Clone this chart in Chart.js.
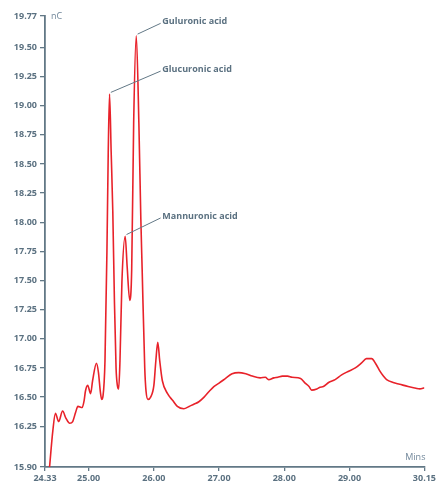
<!DOCTYPE html>
<html>
<head>
<meta charset="utf-8">
<script src="https://cdn.jsdelivr.net/npm/chart.js@4.4.1/dist/chart.umd.min.js"></script>
<style>
  html, body { margin: 0; padding: 0; background: #ffffff; }
  #wrap { width: 438px; height: 484px; position: relative; }
</style>
</head>
<body>
<div id="wrap"><canvas id="chrom"></canvas></div>
<script>
// Retention time (min) and detector response (nC)
const retentionTimes = [
  24.40, 24.45, 24.49, 24.54, 24.60, 24.65, 24.71, 24.755, 24.80, 24.835,
  24.90, 24.93, 24.95, 24.985, 25.03, 25.06, 25.12, 25.15, 25.18, 25.20,
  25.22, 25.25, 25.28, 25.30, 25.32, 25.345, 25.37, 25.395, 25.42, 25.44,
  25.46, 25.48, 25.51, 25.56, 25.59, 25.63, 25.66, 25.69, 25.73, 25.77,
  25.80, 25.82, 25.86, 25.88, 25.91, 25.95, 26.00, 26.03, 26.06, 26.09,
  26.13, 26.21, 26.29, 26.36, 26.46, 26.54, 26.62, 26.69, 26.77, 26.85,
  26.92, 27.00, 27.10, 27.20, 27.30, 27.41, 27.51, 27.63, 27.71, 27.76,
  27.84, 27.90, 27.97, 28.05, 28.12, 28.25, 28.32, 28.38, 28.42, 28.50,
  28.55, 28.60, 28.68, 28.78, 28.88, 28.98, 29.09, 29.19, 29.26, 29.34,
  29.41, 29.47, 29.52, 29.57, 29.67, 29.77, 29.90, 30.02, 30.08, 30.15
];
const responseNC = [
  15.90, 16.21, 16.36, 16.29, 16.38, 16.32, 16.275, 16.29, 16.37, 16.42,
  16.41, 16.47, 16.55, 16.60, 16.53, 16.64, 16.79, 16.71, 16.54, 16.48,
  16.51, 16.81, 17.75, 18.60, 19.10, 18.60, 18.09, 17.32, 16.75, 16.60,
  16.57, 16.81, 17.49, 17.88, 17.62, 17.33, 17.60, 18.85, 19.60, 18.85,
  18.03, 17.60, 16.75, 16.55, 16.48, 16.50, 16.60, 16.81, 16.97, 16.81,
  16.64, 16.53, 16.47, 16.42, 16.40, 16.42, 16.44, 16.46, 16.50, 16.55,
  16.59, 16.62, 16.66, 16.70, 16.71, 16.70, 16.68, 16.665, 16.67, 16.65,
  16.665, 16.67, 16.68, 16.68, 16.67, 16.66, 16.62, 16.59, 16.56, 16.57,
  16.585, 16.59, 16.625, 16.65, 16.69, 16.72, 16.75, 16.795, 16.83, 16.83,
  16.78, 16.72, 16.68, 16.65, 16.625, 16.61, 16.59, 16.575, 16.57, 16.58
];

// Axis ticks
const xTicks = [24.33, 25.00, 26.00, 27.00, 28.00, 29.00, 30.15];
const yTicks = [15.90, 16.25, 16.50, 16.75, 17.00, 17.25, 17.50, 17.75, 18.00,
                18.25, 18.50, 18.75, 19.00, 19.25, 19.50, 19.77];

// Named peaks
const peakNames = ['Guluronic acid', 'Glucuronic acid', 'Mannuronic acid'];
const peakTimes = [25.73, 25.32, 25.56];

const AXIS = '#627886';
const TEXT = '#5b7181';
const LINE = '#e8222a';

// Where each peak name is written (data units)
const labelSpots = [
  { x: 26.13, y: 19.72 },
  { x: 26.13, y: 19.31 },
  { x: 26.13, y: 18.05 }
];

const peakAnnotations = {
  id: 'peakAnnotations',
  afterDatasetsDraw(chart) {
    const { ctx, scales: { x, y }, chartArea } = chart;
    ctx.save();
    ctx.font = 'bold 9px "Open Sans"';
    ctx.textBaseline = 'middle';
    ctx.textAlign = 'left';
    peakNames.forEach((name, i) => {
      const idx = retentionTimes.indexOf(peakTimes[i]);
      const px = x.getPixelForValue(peakTimes[i]);
      const py = y.getPixelForValue(responseNC[idx]);
      const tx = x.getPixelForValue(labelSpots[i].x);
      const ty = y.getPixelForValue(labelSpots[i].y);
      ctx.strokeStyle = AXIS;
      ctx.lineWidth = 1;
      ctx.beginPath();
      ctx.moveTo(px + 1.3, py - 1.7);
      ctx.lineTo(tx - 1.7, ty + 1.5);
      ctx.stroke();
      ctx.fillStyle = TEXT;
      ctx.fillText(name, tx, ty);
    });
    // unit captions
    ctx.font = '9px "Open Sans"';
    ctx.fillStyle = '#71879a';
    ctx.textAlign = 'left';
    ctx.fillText('nC', chartArea.left + 6, chartArea.top);
    ctx.textAlign = 'right';
    ctx.fillText('Mins', chartArea.right + 1, chartArea.bottom - 10);
    ctx.restore();
  }
};

const points = retentionTimes.map((t, i) => ({ x: t, y: responseNC[i] }));

new Chart(document.getElementById('chrom'), {
  type: 'line',
  data: {
    datasets: [{
      data: points,
      borderColor: LINE,
      borderWidth: 1.6,
      pointRadius: 0,
      fill: false,
      cubicInterpolationMode: 'monotone'
    }]
  },
  options: {
    responsive: true,
    maintainAspectRatio: false,
    animation: false,
    layout: { padding: { top: 16, right: 12, left: 0, bottom: 0 } },
    plugins: { legend: { display: false }, tooltip: { enabled: false } },
    scales: {
      x: {
        type: 'linear',
        min: 24.33,
        max: 30.15,
        afterBuildTicks(axis) { axis.ticks = xTicks.map(v => ({ value: v })); },
        afterFit(axis) { axis.height = 17; },
        ticks: {
          autoSkip: false,
          maxRotation: 0,
          padding: 2,
          color: TEXT,
          font: { family: 'Open Sans', size: 9, weight: 'bold' },
          callback: v => Number(v).toFixed(2)
        },
        grid: { drawOnChartArea: false, drawTicks: true, tickLength: 4, color: AXIS, lineWidth: 1.3 },
        border: { display: true, color: AXIS, width: 1.8 }
      },
      y: {
        type: 'linear',
        min: 15.90,
        max: 19.77,
        afterBuildTicks(axis) { axis.ticks = yTicks.map(v => ({ value: v })); },
        afterFit(axis) { axis.width = 45; },
        ticks: {
          autoSkip: false,
          padding: 3,
          color: TEXT,
          font: { family: 'Open Sans', size: 9, weight: 'bold' },
          callback: v => Number(v).toFixed(2)
        },
        grid: { drawOnChartArea: false, drawTicks: true, tickLength: 5, color: AXIS, lineWidth: 1.3 },
        border: { display: true, color: AXIS, width: 1.8 }
      }
    }
  },
  plugins: [peakAnnotations]
});
</script>
</body>
</html>
